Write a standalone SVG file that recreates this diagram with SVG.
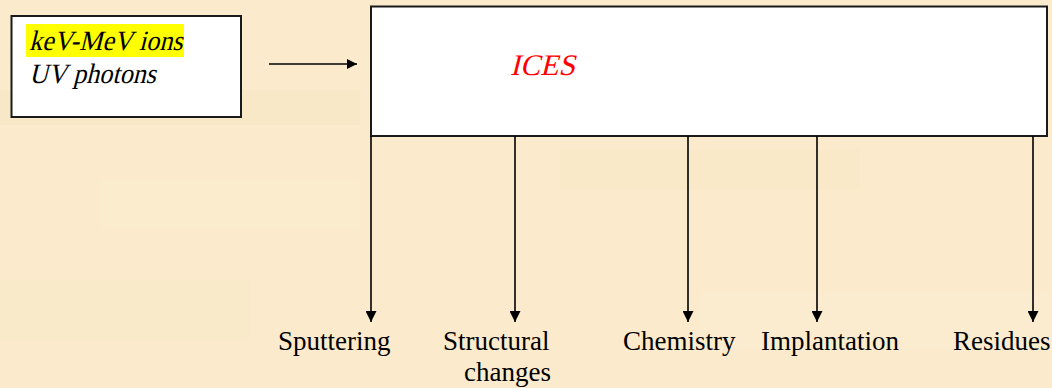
<svg xmlns="http://www.w3.org/2000/svg" width="1052" height="388" viewBox="0 0 1052 388">
<style>
.box{fill:#fff;stroke:#1a1a1a;stroke-width:2}
.line{stroke:#000;stroke-width:1.6;fill:none}
.lbl{font-family:"Liberation Serif","Times New Roman",serif;font-size:27px;fill:#000}
.it{font-family:"Liberation Serif","Times New Roman",serif;font-size:28px;fill:#000}
</style>
<defs>
<marker id="ah" viewBox="0 0 10 10" refX="10" refY="5" markerWidth="10" markerHeight="10" markerUnits="userSpaceOnUse" orient="auto">
<path d="M0,0 L10,5 L0,10 Z" fill="#000"/>
</marker>
<marker id="ahd" viewBox="0 0 11 11" refX="11" refY="5.5" markerWidth="11" markerHeight="11" markerUnits="userSpaceOnUse" orient="auto">
<path d="M0,0 L11,5.5 L0,11 Z" fill="#000"/>
</marker>
</defs>
<rect x="0" y="0" width="1052" height="388" fill="#FBEBCC"/>
<g opacity="0.2">
<rect x="0" y="90" width="360" height="35" fill="#F6E0B6"/>
<rect x="100" y="180" width="260" height="50" fill="#FDF0D8"/>
<rect x="560" y="150" width="300" height="40" fill="#F6E2BA"/>
<rect x="0" y="280" width="250" height="60" fill="#F7E4BE"/>
<rect x="700" y="290" width="352" height="60" fill="#FDF1DA"/>
</g>
<g id="source">
<rect class="box" x="11.5" y="16" width="229.5" height="101"/>
<rect x="26" y="24" width="158" height="33" fill="#FFFF00"/>
<text class="it" transform="translate(29,50) skewX(-14) scale(0.935,1)">keV-MeV ions</text>
<text class="it" transform="translate(29,83) skewX(-14) scale(0.935,1)">UV photons</text>
</g>
<g id="ices">
<rect class="box" x="371" y="6.5" width="676" height="129.5"/>
<text transform="translate(510,75) skewX(-14)" font-family="Liberation Serif, Times New Roman, serif" font-size="30" fill="#FF0000">ICES</text>
</g>
<g id="connectors">
<line class="line" x1="269" y1="64" x2="357" y2="64" marker-end="url(#ah)"/>
<line class="line" x1="371" y1="136" x2="371" y2="322" marker-end="url(#ahd)"/>
<line class="line" x1="515" y1="136" x2="515" y2="322" marker-end="url(#ahd)"/>
<line class="line" x1="688" y1="136" x2="688" y2="322" marker-end="url(#ahd)"/>
<line class="line" x1="817" y1="136" x2="817" y2="322" marker-end="url(#ahd)"/>
<line class="line" x1="1033" y1="136" x2="1033" y2="322" marker-end="url(#ahd)"/>
</g>
<g id="out-sputtering"><text class="lbl" x="278" y="350">Sputtering</text></g>
<g id="out-structural"><text class="lbl" x="443" y="350">Structural</text><text class="lbl" x="464" y="381">changes</text></g>
<g id="out-chemistry"><text class="lbl" x="623" y="350">Chemistry</text></g>
<g id="out-implantation"><text class="lbl" x="761" y="350">Implantation</text></g>
<g id="out-residues"><text class="lbl" x="953" y="350">Residues</text></g>
</svg>
